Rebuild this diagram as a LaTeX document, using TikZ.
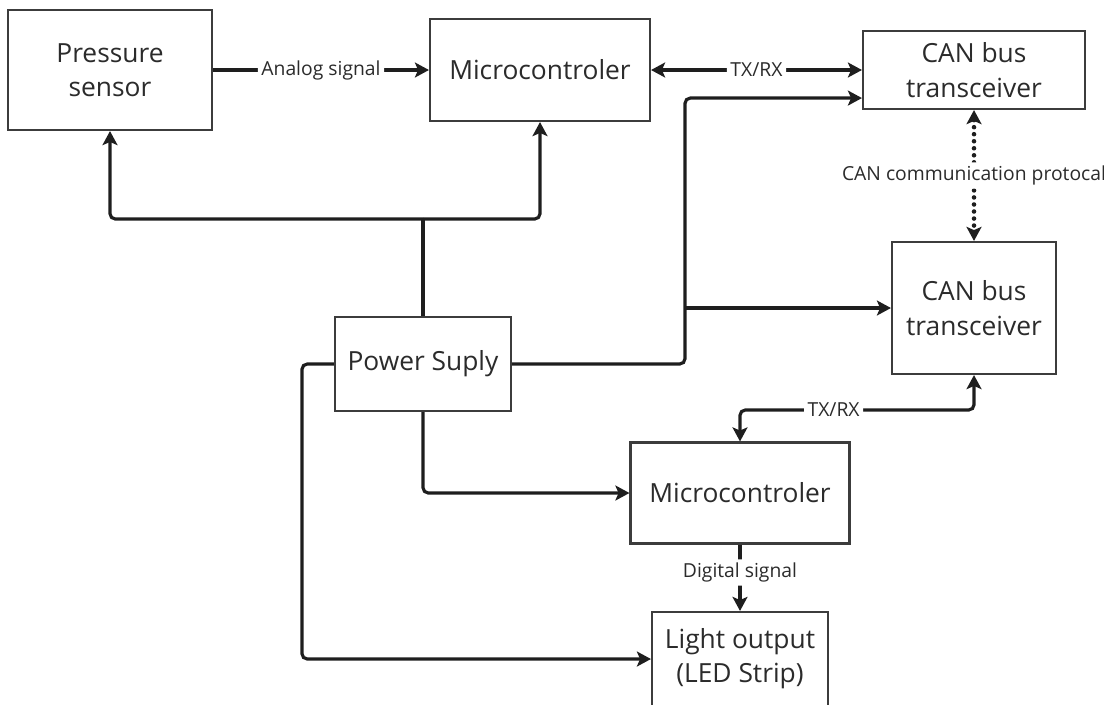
\documentclass[tikz,border=0pt]{standalone}
\usepackage{fontspec}
\setmainfont{Open Sans}
\usepackage{xcolor}
\definecolor{bdink}{HTML}{2B2B2B}
\definecolor{bdline}{HTML}{1E1E1E}
\definecolor{bdframe}{HTML}{3C3C3C}
\usepackage{tikz}
\usetikzlibrary{arrows.meta,positioning,calc}
\tikzset{
  bdbox/.style  ={rectangle, draw=bdframe, fill=white, line width=1.2pt, inner sep=0pt,
                  align=center, text=bdink, font=\fontsize{15}{19.5}\selectfont},
  bdwire/.style ={line width=1.8pt, draw=bdline, rounded corners=3pt},
  bdarrow/.style={bdwire, -{Stealth[length=8pt,width=8.5pt,inset=1.8pt]}},
  bdboth/.style ={bdwire, {Stealth[length=8pt,width=8.5pt,inset=1.8pt]}-{Stealth[length=8pt,width=8.5pt,inset=1.8pt]}},
  bddots/.style ={bdboth, line width=2.6pt, line cap=round, dash pattern=on 0pt off 4pt},
  bdlbl/.style  ={fill=white, inner sep=2pt, text=bdink, font=\fontsize{11}{13}\selectfont},
}

\begin{document}
\begin{tikzpicture}[x=0.02cm, y=-0.02cm]
  \useasboundingbox (0,0) rectangle (1104,704);
  \node[bdbox, minimum width=4.08cm, minimum height=2.4cm]  (sensor) at (110,70)  {Pressure\\sensor};
  \node[bdbox, minimum width=4.4cm,  minimum height=2.04cm] (mcu)    at (540,70)  {Microcontroler};
  \node[bdbox, minimum width=4.44cm, minimum height=1.56cm] (cana)   at (974,70)  {CAN bus\\transceiver};
  \node[bdbox, minimum width=3.28cm, minimum height=2.64cm] (canb)   at (974,308) {CAN bus\\transceiver};
  \node[bdbox, minimum width=3.52cm, minimum height=1.88cm] (psu)    at (423,364) {Power Suply};
  \node[bdbox, minimum width=4.38cm, minimum height=2.02cm] (mcub)   at (740,493) {Microcontroler};
  \node[bdbox, minimum width=3.52cm, minimum height=1.88cm] (led)    at (740,659) {Light output\\(LED Strip)};
  \coordinate (psusplit) at (423,219);
  \coordinate (busx) at (685,308);
  \coordinate (txjog) at (740,410);
  \draw[bdarrow] (sensor) -- node[bdlbl] {Analog signal} (mcu);
  \draw[bdboth] (mcu) -- node[bdlbl] {TX/RX} (cana);
  \draw[bddots] (cana) -- node[bdlbl] {CAN communication protocal} (canb);
  \draw[bdwire] (psu.north) -- (psusplit);
  \draw[bdarrow] (psusplit) -| (sensor);
  \draw[bdarrow] (psusplit) -| (mcu);
  \draw[bdarrow] (psu.east) -| (busx) |- ([yshift=0.24cm]cana.south west);
  \draw[bdarrow] (busx) -- (canb);
  \draw[bdarrow] (psu.south) |- (mcub);
  \draw[bdarrow] (psu.west) -- ++(-32,0) |- (led);
  \draw[bdboth] (canb.south) |- node[bdlbl, pos=0.8] {TX/RX} (txjog) -- (mcub.north);
  \draw[bdarrow] (mcub) -- node[bdlbl, pos=0.42] {Digital signal} (led);
\end{tikzpicture}
\end{document}
